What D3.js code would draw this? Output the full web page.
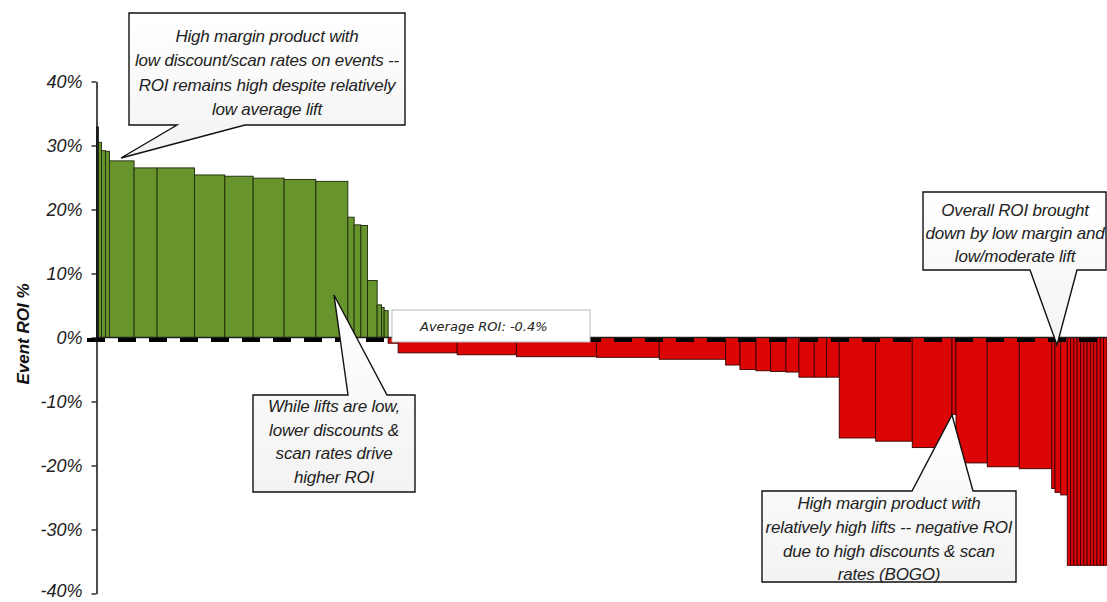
<!DOCTYPE html>
<html>
<head>
<meta charset="utf-8">
<script src="https://cdn.jsdelivr.net/npm/d3@7"></script>
<style>
  body { margin: 0; background: #fff; }
  svg { display: block; }
</style>
</head>
<body>
<svg id="chart" width="1107" height="602"></svg>
<script>
// Event volume share (bar widths) and event ROI % (bar heights), sorted by ROI
const eventShare = [
  2.0, 3.0, 4.0, 4.0, 24.6, 23.0, 37.4, 30.3, 28.3, 31.0, 31.7, 32.0,
  6.3, 6.7, 6.7, 9.6, 4.4, 2.6, 4.0,
  10.0, 59.0, 59.4, 80.0, 62.6, 66.4, 14.3, 16.0, 14.7, 15.3, 13.0, 15.3, 12.4, 12.6,
  36.4, 36.6, 39.7, 4.0, 31.3, 32.0, 32.4, 3.3, 5.7, 6.6,
  3.3, 3.3, 3.3, 3.3, 3.3, 3.3, 3.3, 3.3, 3.3, 3.3, 3.3, 3.4
];
const eventRoi = [
  32.9, 30.5, 29.2, 29.1, 27.6, 26.5, 26.5, 25.4, 25.2, 24.9, 24.7, 24.4,
  18.8, 17.6, 17.5, 8.9, 5.1, 4.7, 4.2,
  -0.9, -2.4, -2.7, -3.0, -3.1, -3.4, -4.3, -5.0, -5.2, -5.3, -5.4, -6.2, -6.2, -6.2,
  -15.7, -16.2, -17.2, -12.0, -19.6, -20.2, -20.5, -23.6, -24.2, -24.6,
  -35.6, -35.6, -35.6, -35.6, -35.6, -35.6, -35.6, -35.6, -35.6, -35.6, -35.6, -35.6
];
const yTickValues = [40, 30, 20, 10, 0, -10, -20, -30, -40];
const averageRoi = -0.4;
const yAxisTitle = "Event ROI %";

const calloutTexts = [
  ["High margin product with", "low discount/scan rates on events --",
   "ROI remains high despite relatively", "low average lift"],
  ["While lifts are low,", "lower discounts &", "scan rates drive", "higher ROI"],
  ["High margin product with", "relatively high lifts -- negative ROI",
   "due to high discounts & scan", "rates (BOGO)"],
  ["Overall ROI brought", "down by low margin and", "low/moderate lift"]
];

const svg = d3.select("#chart");
const plotLeft = 96.5, plotRight = 1107;

// Cumulative starts for the variable-width bars
const starts = d3.cumsum([0].concat(eventShare.slice(0, -1)));
const bars = eventRoi.map((v, i) => ({ i, v, x0: starts[i], x1: starts[i] + eventShare[i] }));
const total = d3.sum(eventShare);

const x = d3.scaleLinear().domain([0, total]).range([plotLeft, plotRight]);
const y = d3.scaleLinear().domain([-40, 40]).range([593.5, 81.5]);

const fillFor = d => d.i === 0 ? "#3e4784" : (d.v >= 0 ? "#68942e" : "#dc0505");
const strokeFor = d => d.v >= 0 ? "#1d2a0c" : "#3a0000";

svg.append("g").attr("class", "bars")
  .selectAll("rect").data(bars).join("rect")
  .attr("x", d => x(d.x0))
  .attr("width", d => Math.max(0.5, x(d.x1) - x(d.x0)))
  .attr("y", d => y(Math.max(0, d.v)))
  .attr("height", d => Math.abs(y(d.v) - y(0)))
  .attr("fill", fillFor)
  .attr("stroke", strokeFor)
  .attr("stroke-width", 0.9);

// Zero baseline
svg.append("line")
  .attr("x1", plotLeft).attr("x2", plotRight)
  .attr("y1", y(0)).attr("y2", y(0))
  .attr("stroke", "#222").attr("stroke-width", 1.5);

// Average ROI reference line
svg.append("line")
  .attr("x1", 87).attr("x2", plotRight)
  .attr("y1", y(averageRoi)).attr("y2", y(averageRoi))
  .attr("stroke", "#000").attr("stroke-width", 4)
  .attr("stroke-dasharray", "18,13");

// Y axis
const yAxis = d3.axisLeft(y)
  .tickValues(yTickValues)
  .tickFormat(d => d + "%")
  .tickSize(5)
  .tickSizeOuter(0)
  .tickPadding(9);

const gy = svg.append("g").attr("transform", `translate(${plotLeft},0)`).call(yAxis);
gy.select(".domain").attr("stroke", "#111").attr("stroke-width", 1.5);
gy.selectAll(".tick line").attr("stroke", "#111").attr("stroke-width", 1.3);
gy.selectAll(".tick text")
  .attr("font-family", "'Liberation Sans', Arial, sans-serif")
  .attr("font-style", "italic")
  .attr("font-size", 18)
  .attr("fill", "#222")
  // keep the lowest label inside the bottom edge
  .attr("dy", d => d === -40 ? "0.18em" : "0.36em");

svg.append("text")
  .attr("transform", `translate(29,${334}) rotate(-90)`)
  .attr("text-anchor", "middle")
  .attr("font-family", "'Liberation Sans', Arial, sans-serif")
  .attr("font-style", "italic")
  .attr("font-weight", "bold")
  .attr("font-size", 17)
  .attr("fill", "#111")
  .text(yAxisTitle);

// Average ROI label box
const avgBox = svg.append("g");
avgBox.append("rect")
  .attr("x", 392).attr("y", 310).attr("width", 198).attr("height", 32)
  .attr("fill", "#fff").attr("stroke", "#b8b8b8").attr("stroke-width", 1);
avgBox.append("text")
  .attr("x", 420).attr("y", 331)
  .attr("font-family", "'DejaVu Sans', Verdana, sans-serif")
  .attr("font-style", "italic")
  .attr("font-size", 13)
  .attr("fill", "#222")
  .text(`Average ROI: ${averageRoi}%`);

// Callout shapes: a box with a wedge pointing at the bars
function calloutPath(b) {
  const { left, top, right, bottom, edge, b1, b2, tipX, tipY } = b;
  if (edge === "bottom") {
    return `M${left},${top}H${right}V${bottom}H${b2}L${tipX},${tipY}L${b1},${bottom}H${left}Z`;
  }
  return `M${left},${top}H${b1}L${tipX},${tipY}L${b2},${top}H${right}V${bottom}H${left}Z`;
}

const calloutLayout = [
  { left: 129, top: 13, right: 405, bottom: 125, edge: "bottom", b1: 177, b2: 245,
    tipX: 121, tipY: 158, cx: 267, lineY: [36, 60.5, 85, 109.5] },
  { left: 253, top: 395, right: 415, bottom: 492, edge: "top", b1: 348, b2: 387,
    tipX: 334, tipY: 295, cx: 334, lineY: [406.5, 430, 453.5, 477] },
  { left: 762, top: 491, right: 1016, bottom: 582, edge: "top", b1: 912, b2: 973,
    tipX: 952, tipY: 415, cx: 889, lineY: [503, 527.5, 551, 574] },
  { left: 923, top: 192, right: 1106, bottom: 270, edge: "bottom", b1: 1030, b2: 1077,
    tipX: 1057, tipY: 345, cx: 1015, lineY: [210, 233.5, 256] }
];

const defs = svg.append("defs");
const grad = defs.append("linearGradient").attr("id", "calloutFill")
  .attr("x1", 0).attr("y1", 0).attr("x2", 0).attr("y2", 1);
grad.append("stop").attr("offset", "0%").attr("stop-color", "#ffffff");
grad.append("stop").attr("offset", "100%").attr("stop-color", "#f3f3f3");

calloutLayout.forEach((c, k) => {
  const g = svg.append("g");
  g.append("path")
    .attr("d", calloutPath(c))
    .attr("fill", "url(#calloutFill)")
    .attr("stroke", "#111")
    .attr("stroke-width", 1.4)
    .attr("stroke-linejoin", "miter");
  g.selectAll("text").data(calloutTexts[k]).join("text")
    .attr("x", c.cx)
    .attr("y", (d, j) => c.lineY[j])
    .attr("text-anchor", "middle")
    .attr("dominant-baseline", "central")
    .attr("font-family", "'Liberation Sans', Arial, sans-serif")
    .attr("font-style", "italic")
    .attr("font-size", 17)
    .attr("letter-spacing", -0.2)
    .attr("fill", "#222")
    .text(d => d);
});
</script>
</body>
</html>
